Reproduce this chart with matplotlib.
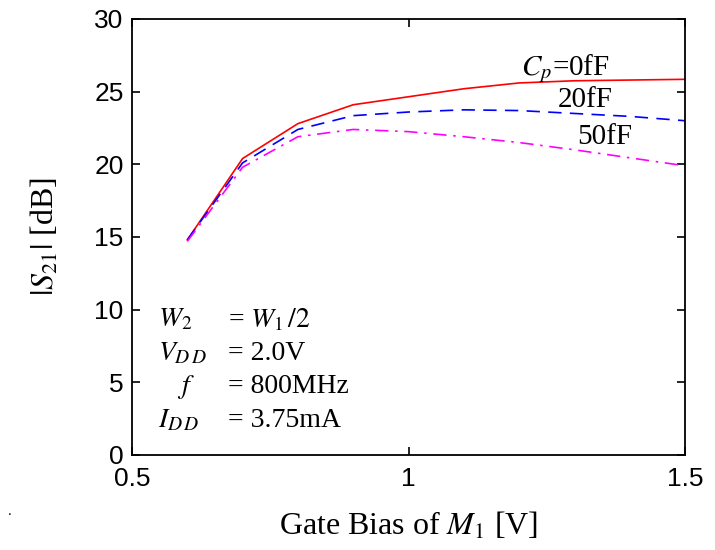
import matplotlib
matplotlib.use("Agg")
import matplotlib.pyplot as plt

plt.rcParams["mathtext.fontset"] = "stix"
plt.rcParams["font.family"] = ["Liberation Sans", "DejaVu Sans"]

# 栅极偏压与 |S21|
bias = [0.6, 0.7, 0.8, 0.9, 1.0, 1.1, 1.2, 1.3, 1.4, 1.5]
s21_0ff = [14.8, 20.4, 22.8, 24.1, 24.65, 25.2, 25.6, 25.75, 25.8, 25.85]
s21_20ff = [14.8, 20.1, 22.4, 23.35, 23.6, 23.75, 23.7, 23.5, 23.3, 23.0]
s21_50ff = [14.7, 19.8, 21.9, 22.4, 22.25, 21.9, 21.5, 21.0, 20.45, 19.9]

xticks = [0.5, 1, 1.5]
xticklabels = ["0.5", "1", "1.5"]
yticks = [0, 5, 10, 15, 20, 25, 30]

serif = ["Liberation Serif", "DejaVu Serif"]

fig = plt.figure(figsize=(7.15, 5.5), dpi=100)
ax = fig.add_axes([132 / 715, 95 / 550, 553 / 715, 436 / 550])

ax.plot(bias, s21_0ff, color="red", lw=1.2, ls="-")
ax.plot(bias, s21_20ff, color="blue", lw=1.2, ls=(0, (8, 5)))
ax.plot(bias, s21_50ff, color="magenta", lw=1.2, ls=(0, (8, 4, 1.5, 4)))

ax.set_xlim(0.5, 1.5)
ax.set_ylim(0, 30)
ax.set_xticks(xticks)
ax.set_xticklabels(xticklabels)
ax.set_yticks(yticks)
ax.tick_params(direction="in", top=True, right=True, labelsize=19, length=6, width=1.2)
ax.tick_params(axis="x", pad=9)
ax.tick_params(axis="y", pad=6)
for s in ax.spines.values():
    s.set_linewidth(1.3)

ax.set_xlabel(r"Gate Bias of $M_1$ [V]", fontsize=23, family=serif, labelpad=14)
ax.set_ylabel(r"$|S_{21}|$ [dB]", fontsize=23, family=serif, labelpad=24)

# 曲线标注
ax.text(1.283, 26.6, r"$C_p$=0fF", fontsize=21, family=serif, ha="center", va="center")
ax.text(1.319, 24.4, "20fF", fontsize=21, family=serif, ha="center", va="center")
ax.text(1.355, 21.9, "50fF", fontsize=21, family=serif, ha="center", va="center")

# 参数说明
names = [r"$W_2$", r"$V_{D\,D}$", r"$f$", r"$I_{D\,D}$"]
values = [r"= $W_1\,/2$", "= 2.0V", "= 800MHz", "= 3.75mA"]
ys = [9.3, 6.95, 4.68, 2.34]
name_x = [0.547, 0.547, 0.582, 0.547]
for n, v, y, nx in zip(names, values, ys, name_x):
    ax.text(nx, y, n, fontsize=20, family=serif, va="center")
    ax.text(0.674, y, v, fontsize=20, family=serif, va="center")

fig.text(8 / 715, 1 - 515 / 550, ".", fontsize=10)

fig.savefig("out.png", dpi=100)
